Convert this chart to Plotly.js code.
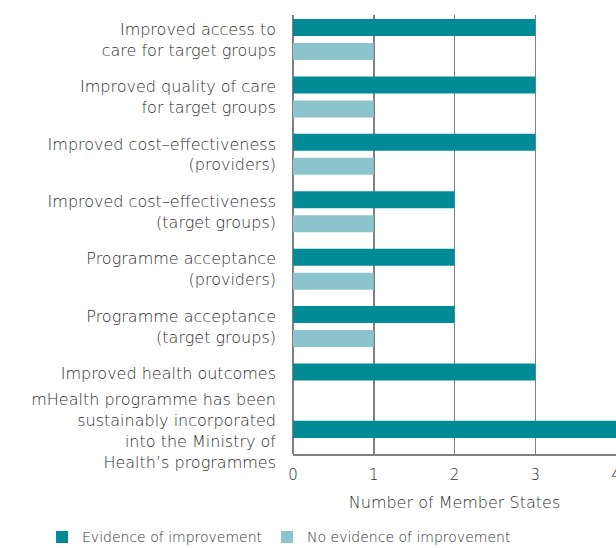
<!DOCTYPE html>
<html>
<head>
<meta charset="utf-8">
<script src="https://cdn.plot.ly/plotly-3.0.1.min.js"></script>
<style>html,body{margin:0;padding:0;background:#fff;overflow:hidden;}#chart{width:616px;height:560px;}</style>
</head>
<body>
<div id="chart"></div>
<script>
const categories = [
  "Improved access to<br>care for target groups",
  "Improved quality of care<br>for target groups",
  "Improved cost–effectiveness<br>(providers)",
  "Improved cost–effectiveness<br>(target groups)",
  "Programme acceptance<br>(providers)",
  "Programme acceptance<br>(target groups)",
  "Improved health outcomes<br>\u00a0",
  "mHealth programme has been<br>sustainably incorporated<br>into the Ministry of<br>Health’s programmes<br>\u00a0"
];
const evidence = [3, 3, 3, 2, 2, 2, 3, 4];
const noEvidence = [1, 1, 1, 1, 1, 1, 0, 0];
const seriesNames = ["Evidence of improvement", "No evidence of improvement"];
const xTickVals = [0, 1, 2, 3, 4];
const xTitle = "Number of Member States";

const FONT = "'DejaVu Sans', 'Open Sans', sans-serif";
const TXT = "#2e2e2e";

const traces = [
  {type: "bar", orientation: "h", name: seriesNames[0], y: categories, x: evidence,
   marker: {color: "#008b96"}, hoverinfo: "x"},
  {type: "bar", orientation: "h", name: seriesNames[1], y: categories, x: noEvidence,
   marker: {color: "#8bc4cd"}, hoverinfo: "x"}
];

const layout = {
  width: 616, height: 560,
  margin: {l: 293, r: 0, t: 15, b: 106, pad: 0},
  paper_bgcolor: "#fff", plot_bgcolor: "#fff",
  font: {family: FONT, color: TXT, size: 16, weight: 200},
  barmode: "group", bargap: 0.164, bargroupgap: 0.29,
  xaxis: {
    range: [0, 4], tickvals: xTickVals, ticks: "", showgrid: true,
    gridcolor: "#808080", gridwidth: 1.5, zeroline: true, zerolinecolor: "#808080", zerolinewidth: 1.5,
    showline: true, linecolor: "#808080", linewidth: 1.5, mirror: false,
    tickfont: {size: 15, color: TXT}, ticklabelstandoff: 6, ticklabeloverflow: "allow",
    title: {text: xTitle, font: {size: 16, color: TXT}, standoff: 14}
  },
  yaxis: {
    type: "category", range: [7.22, -0.427], autorange: false, ticks: "", showgrid: false,
    zeroline: false, showline: false, ticklabelstandoff: 16,
    tickfont: {size: 16, color: TXT}
  },
  showlegend: true,
  legend: {orientation: "h", x: -0.777, xanchor: "left", y: -0.19, yanchor: "middle",
           font: {size: 14, color: TXT}, traceorder: "normal", itemclick: false},
};

Plotly.newPlot("chart", traces, layout, {displayModeBar: false, staticPlot: true});
</script>
</body>
</html>
